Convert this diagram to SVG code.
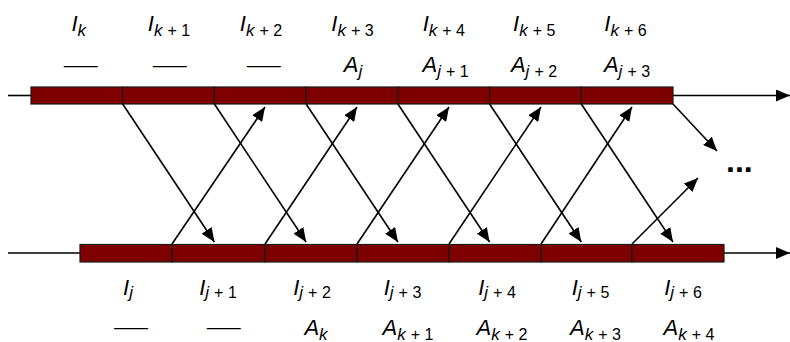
<svg xmlns="http://www.w3.org/2000/svg" width="790" height="342" viewBox="0 0 790 342">
<style>
text{font-family:"Liberation Sans",Arial,sans-serif;fill:#000}
.lbl{text-anchor:middle;font-size:22px}
.m{font-style:italic;font-size:22px}
.s{font-style:italic;font-size:17px}
.n{font-style:normal;font-size:16px}
.dash{font-size:20px;text-anchor:middle}
.seg{fill:#7f0000;stroke:#1a1a1a;stroke-width:1.2}
.ln{stroke:#000;stroke-width:1.6;fill:none}
.arr{stroke:#000;stroke-width:1.6;fill:none;marker-end:url(#ah)}
.dots{font-size:32px;font-weight:bold}
</style>
<defs>
<marker id="ah" markerUnits="userSpaceOnUse" markerWidth="15" markerHeight="12" refX="14" refY="6" orient="auto">
<path d="M0,0 L14,6 L0,12 z" fill="#000"/>
</marker>
</defs>

<g id="connectors">
<line class="ln" x1="8" y1="95.5" x2="31" y2="95.5"/>
<line class="arr" x1="673" y1="95.5" x2="790" y2="95.5"/>
<line class="ln" x1="8" y1="253" x2="80" y2="253"/>
<line class="arr" x1="724" y1="253" x2="790" y2="253"/>
<line class="arr" x1="122.7" y1="104" x2="214.4" y2="242"/>
<line class="arr" x1="214.4" y1="104" x2="306.1" y2="242"/>
<line class="arr" x1="306.1" y1="104" x2="397.9" y2="242"/>
<line class="arr" x1="397.9" y1="104" x2="489.6" y2="242"/>
<line class="arr" x1="489.6" y1="104" x2="581.3" y2="242"/>
<line class="arr" x1="581.3" y1="104" x2="673" y2="242"/>
<line class="arr" x1="673" y1="104" x2="717" y2="151"/>
<line class="arr" x1="172" y1="244" x2="265" y2="107"/>
<line class="arr" x1="265" y1="244" x2="357" y2="107"/>
<line class="arr" x1="357" y1="244" x2="449" y2="107"/>
<line class="arr" x1="449" y1="244" x2="541" y2="107"/>
<line class="arr" x1="541" y1="244" x2="632" y2="107"/>
<line class="arr" x1="632" y1="244" x2="698" y2="178"/>
</g>

<g id="top-bar">
<rect class="seg" x="31" y="87" width="91.7" height="17"/>
<rect class="seg" x="122.7" y="87" width="91.7" height="17"/>
<rect class="seg" x="214.4" y="87" width="91.7" height="17"/>
<rect class="seg" x="306.1" y="87" width="91.8" height="17"/>
<rect class="seg" x="397.9" y="87" width="91.7" height="17"/>
<rect class="seg" x="489.6" y="87" width="91.7" height="17"/>
<rect class="seg" x="581.3" y="87" width="91.7" height="17"/>
</g>

<g id="bottom-bar">
<rect class="seg" x="80" y="244.5" width="92" height="17.5"/>
<rect class="seg" x="172" y="244.5" width="93" height="17.5"/>
<rect class="seg" x="265" y="244.5" width="92" height="17.5"/>
<rect class="seg" x="357" y="244.5" width="92" height="17.5"/>
<rect class="seg" x="449" y="244.5" width="92" height="17.5"/>
<rect class="seg" x="541" y="244.5" width="91" height="17.5"/>
<rect class="seg" x="632" y="244.5" width="92" height="17.5"/>
</g>

<g id="top-labels">
<text class="lbl" x="78.7" y="31"><tspan class="m">I</tspan><tspan class="s" dy="5">k</tspan></text>
<text class="lbl" x="169" y="31"><tspan class="m">I</tspan><tspan class="s" dy="5">k</tspan><tspan class="n" dx="5">+ 1</tspan></text>
<text class="lbl" x="261" y="31"><tspan class="m">I</tspan><tspan class="s" dy="5">k</tspan><tspan class="n" dx="5">+ 2</tspan></text>
<text class="lbl" x="352.5" y="31"><tspan class="m">I</tspan><tspan class="s" dy="5">k</tspan><tspan class="n" dx="5">+ 3</tspan></text>
<text class="lbl" x="443.8" y="31"><tspan class="m">I</tspan><tspan class="s" dy="5">k</tspan><tspan class="n" dx="5">+ 4</tspan></text>
<text class="lbl" x="534.2" y="31"><tspan class="m">I</tspan><tspan class="s" dy="5">k</tspan><tspan class="n" dx="5">+ 5</tspan></text>
<text class="lbl" x="625.5" y="31"><tspan class="m">I</tspan><tspan class="s" dy="5">k</tspan><tspan class="n" dx="5">+ 6</tspan></text>
<text class="dash" x="80.8" y="71.7" textLength="34" lengthAdjust="spacingAndGlyphs">—</text>
<text class="dash" x="169.7" y="71.7" textLength="34" lengthAdjust="spacingAndGlyphs">—</text>
<text class="dash" x="263.8" y="71.7" textLength="34" lengthAdjust="spacingAndGlyphs">—</text>
<text class="lbl" x="353" y="71.5"><tspan class="m">A</tspan><tspan class="s" dy="5">j</tspan></text>
<text class="lbl" x="445.7" y="71.5"><tspan class="m">A</tspan><tspan class="s" dy="5">j</tspan><tspan class="n" dx="5">+ 1</tspan></text>
<text class="lbl" x="534" y="71.5"><tspan class="m">A</tspan><tspan class="s" dy="5">j</tspan><tspan class="n" dx="5">+ 2</tspan></text>
<text class="lbl" x="627" y="71.5"><tspan class="m">A</tspan><tspan class="s" dy="5">j</tspan><tspan class="n" dx="5">+ 3</tspan></text>
</g>

<g id="bottom-labels">
<text class="lbl" x="128" y="294.5"><tspan class="m">I</tspan><tspan class="s" dy="3.5">j</tspan></text>
<text class="lbl" x="218" y="294.5"><tspan class="m">I</tspan><tspan class="s" dy="3.5">j</tspan><tspan class="n" dx="5">+ 1</tspan></text>
<text class="lbl" x="312" y="294.5"><tspan class="m">I</tspan><tspan class="s" dy="3.5">j</tspan><tspan class="n" dx="5">+ 2</tspan></text>
<text class="lbl" x="402.5" y="294.5"><tspan class="m">I</tspan><tspan class="s" dy="3.5">j</tspan><tspan class="n" dx="5">+ 3</tspan></text>
<text class="lbl" x="497" y="294.5"><tspan class="m">I</tspan><tspan class="s" dy="3.5">j</tspan><tspan class="n" dx="5">+ 4</tspan></text>
<text class="lbl" x="590.5" y="294.5"><tspan class="m">I</tspan><tspan class="s" dy="3.5">j</tspan><tspan class="n" dx="5">+ 5</tspan></text>
<text class="lbl" x="683" y="294.5"><tspan class="m">I</tspan><tspan class="s" dy="3.5">j</tspan><tspan class="n" dx="5">+ 6</tspan></text>
<text class="dash" x="131" y="334.3" textLength="34" lengthAdjust="spacingAndGlyphs">—</text>
<text class="dash" x="223.8" y="334.3" textLength="34" lengthAdjust="spacingAndGlyphs">—</text>
<text class="lbl" x="316" y="335"><tspan class="m">A</tspan><tspan class="s" dy="4.5">k</tspan></text>
<text class="lbl" x="408" y="335"><tspan class="m">A</tspan><tspan class="s" dy="4.5">k</tspan><tspan class="n" dx="5">+ 1</tspan></text>
<text class="lbl" x="502" y="335"><tspan class="m">A</tspan><tspan class="s" dy="4.5">k</tspan><tspan class="n" dx="5">+ 2</tspan></text>
<text class="lbl" x="595.5" y="335"><tspan class="m">A</tspan><tspan class="s" dy="4.5">k</tspan><tspan class="n" dx="5">+ 3</tspan></text>
<text class="lbl" x="689" y="335"><tspan class="m">A</tspan><tspan class="s" dy="4.5">k</tspan><tspan class="n" dx="5">+ 4</tspan></text>
</g>

<g id="ellipsis">
<text class="dots" x="726" y="172">...</text>
</g>
</svg>
